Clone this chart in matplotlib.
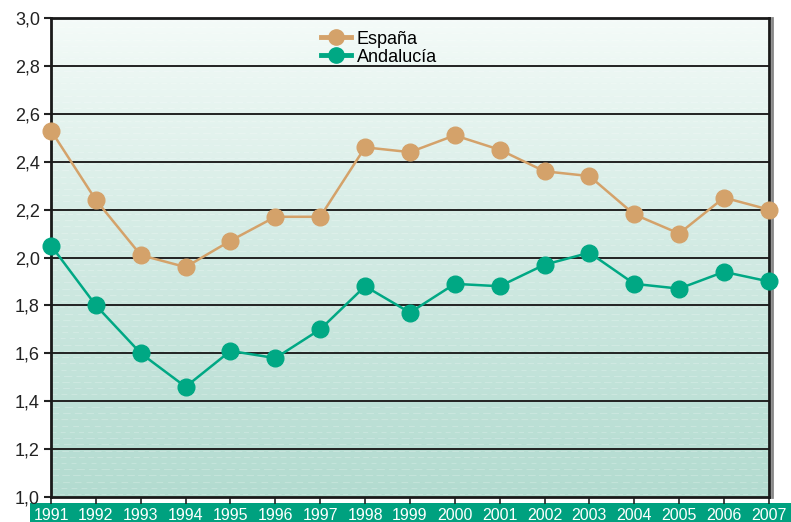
import numpy as np
import matplotlib
matplotlib.use('Agg')
import matplotlib.pyplot as plt
from matplotlib.patches import Rectangle

years = [1991, 1992, 1993, 1994, 1995, 1996, 1997, 1998, 1999,
         2000, 2001, 2002, 2003, 2004, 2005, 2006, 2007]
espana = [2.53, 2.24, 2.01, 1.96, 2.07, 2.17, 2.17, 2.46, 2.44,
          2.51, 2.45, 2.36, 2.34, 2.18, 2.10, 2.25, 2.20]
andalucia = [2.05, 1.80, 1.60, 1.46, 1.61, 1.58, 1.70, 1.88, 1.77,
             1.89, 1.88, 1.97, 2.02, 1.89, 1.87, 1.94, 1.90]
yticks = [1.0, 1.2, 1.4, 1.6, 1.8, 2.0, 2.2, 2.4, 2.6, 2.8, 3.0]
ytick_labels = ['1,0', '1,2', '1,4', '1,6', '1,8', '2,0', '2,2', '2,4', '2,6', '2,8', '3,0']

plt.rcParams['font.family'] = ['Liberation Sans', 'DejaVu Sans']

col_es = '#D4A26A'
col_an = '#00A884'
col_strip = '#00A17F'

fig = plt.figure(figsize=(7.91, 5.22), dpi=100)
ax = fig.add_axes([0.0645, 0.0479, 0.9075, 0.9176])

# teal strip behind the year labels
fig.patches.append(Rectangle((0.038, 0.0), 0.962, 0.037, transform=fig.transFigure,
                             facecolor=col_strip, edgecolor='none', zorder=-1))

# gradient background
grad = np.linspace(0, 1, 256).reshape(-1, 1)
top = np.array([0.96, 0.985, 0.975])
bot = np.array([0.70, 0.86, 0.815])
img = top + (bot - top) * grad[..., None] ** 0.9
ax.imshow(img, extent=[0, 1, 0, 1], transform=ax.transAxes, aspect='auto', zorder=0)

# faint streak texture
rng_y = np.arange(0.006, 1, 0.013)
for i, yy in enumerate(rng_y):
    ax.plot([0, 1], [yy, yy], transform=ax.transAxes, color='white', lw=0.6,
            alpha=0.25, dashes=(6 + i % 5, 4 + i % 3), zorder=0.5)

for yv in yticks[1:-1]:
    ax.axhline(yv, color='#222222', lw=1.4, zorder=1)

ax.plot(years, espana, color=col_es, lw=1.8, marker='o', ms=12, label='España',
        zorder=3, clip_on=False)
ax.plot(years, andalucia, color=col_an, lw=1.8, marker='o', ms=12, label='Andalucía',
        zorder=3, clip_on=False)

ax.set_xlim(1991, 2007)
ax.set_ylim(1.0, 3.0)
ax.set_yticks(yticks)
ax.set_yticklabels(ytick_labels, fontsize=13, color='#222222')
ax.set_xticks(years)
ax.set_xticklabels([str(y) for y in years], fontsize=11.5, color='white')
ax.tick_params(axis='y', length=5, width=1.5, color='#222222', pad=3)
ax.tick_params(axis='x', length=5, width=1.2, color='#222222', pad=3)

for s in ['left', 'top', 'right', 'bottom']:
    ax.spines[s].set_linewidth(2)
    ax.spines[s].set_color('#1a1a1a')
# shadow on right edge
ax.plot([1.004, 1.004], [0.0, 1.0], transform=ax.transAxes, color='#888888', lw=2,
        clip_on=False, zorder=0.4)

leg = ax.legend(loc='upper left', bbox_to_anchor=(0.358, 1.0), frameon=False,
                fontsize=13, handlelength=1.7, handletextpad=0.3, labelspacing=0.05,
                borderpad=0.2)
for ln in leg.get_lines():
    ln.set_linewidth(3.5)
    ln.set_markersize(11)

fig.savefig('out.png', dpi=100)
